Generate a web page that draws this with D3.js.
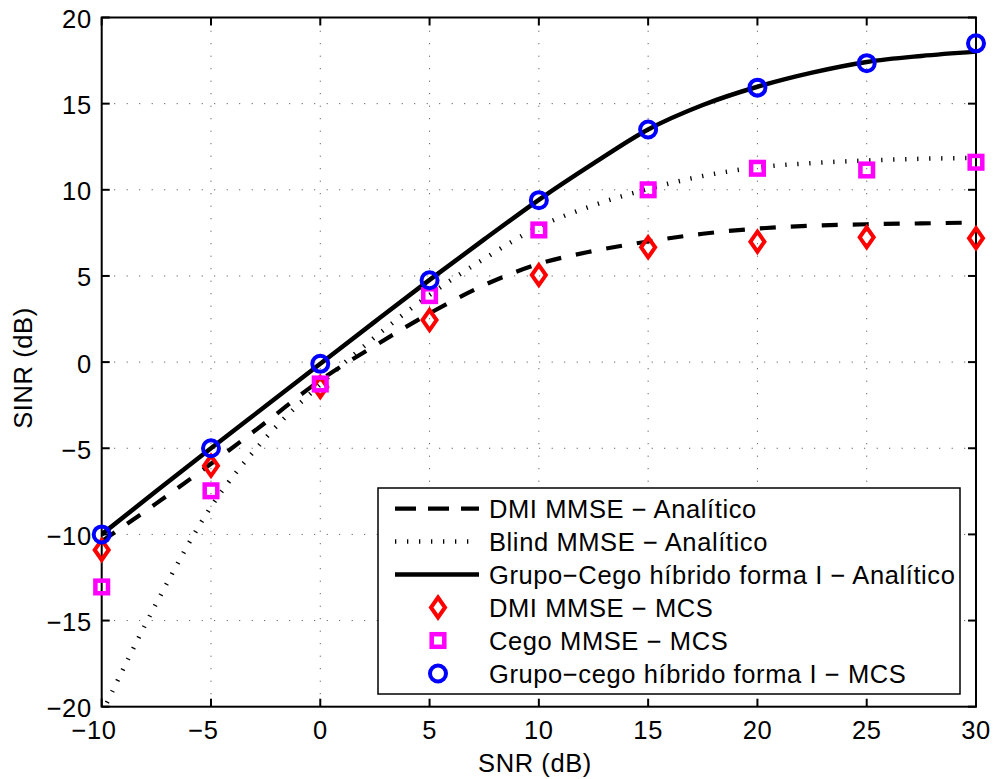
<!DOCTYPE html>
<html>
<head>
	<title></title>
	<script src="https://cdn.jsdelivr.net/npm/d3@7/dist/d3.min.js"></script>
	<style type="text/css">
		body{
			margin: 0;
			padding: 0;
			background: #fff;
		}
		svg{
			display: block;
		}
		text{
			font-family: "Liberation Sans", Arial, Helvetica, sans-serif;
			font-size: 25.5px;
			letter-spacing: 0.6px;
			fill: #000;
		}
	</style>
</head>
<body>
	<svg id="svg" width="993" height="779" version="1.1" xmlns="http://www.w3.org/2000/svg"></svg>
</body>
	<script type="text/javascript">
		// analytic curves, read every 2.5 dB
		let snrFine = [-10,-7.5,-5,-2.5,0,2.5,5,7.5,10,12.5,15,17.5,20,22.5,25,27.5,30];
		let dmiAnalytic = [-10.4,-8.2,-5.9,-3.5,-1.05,0.95,2.83,4.47,5.7,6.45,7.0,7.45,7.75,7.92,8.0,8.05,8.1];
		let blindAnalytic = [-20.4,-14.0,-8.4,-4.4,-1.3,1.45,3.9,6.0,7.85,9.1,10.05,10.8,11.3,11.55,11.7,11.8,11.85];
		let hybridAnalytic = [-10.0,-7.48,-5.0,-2.55,-0.1,2.35,4.77,7.12,9.42,11.53,13.5,14.92,15.98,16.8,17.42,17.77,18.02];

		// simulation points (MCS)
		let snrMcs = [-10,-5,0,5,10,15,20,25,30];
		let dmiMcs = [-10.9,-6.02,-1.45,2.44,5.05,6.66,6.99,7.24,7.19];
		let cegoMcs = [-13.05,-7.47,-1.27,3.86,7.67,10.0,11.25,11.15,11.6];
		let hybridMcs = [-10.0,-5.0,-0.1,4.75,9.4,13.5,15.93,17.35,18.5];

		let xTicks = [-10,-5,0,5,10,15,20,25,30];
		let yTicks = [-20,-15,-10,-5,0,5,10,15,20];

		let legendLabels = [
			'DMI MMSE \u2212 Analítico',
			'Blind MMSE \u2212 Analítico',
			'Grupo\u2212Cego híbrido forma I \u2212 Analítico',
			'DMI MMSE \u2212 MCS',
			'Cego MMSE \u2212 MCS',
			'Grupo\u2212cego híbrido forma I \u2212 MCS'
		];

		let svg = d3.select('#svg');
		let plotLeft = 101.7, plotTop = 17.5, plotRight = 976, plotBottom = 706.7;
		let tickLen = 8;

		let x = d3.scaleLinear().domain([-10,30]).range([plotLeft,plotRight]);
		let y = d3.scaleLinear().domain([-20,20]).range([plotBottom,plotTop]);

		function fmt(v){
			return v<0 ? '\u2212'+Math.abs(v) : ''+v;
		}

		svg.append('defs').append('clipPath').attr('id','plotClip')
			.append('rect')
			.attr('x',plotLeft).attr('y',plotTop)
			.attr('width',plotRight-plotLeft).attr('height',plotBottom-plotTop);

		// grid
		let grid = svg.append('g').attr('class','grid')
			.style('stroke','#444')
			.style('stroke-width',1)
			.style('stroke-dasharray','1,11.5');
		xTicks.slice(1,-1).forEach(function(t){
			grid.append('line')
				.attr('x1',x(t)).attr('x2',x(t))
				.attr('y1',plotBottom).attr('y2',plotTop);
		});
		yTicks.slice(1,-1).forEach(function(t){
			grid.append('line')
				.attr('x1',plotLeft).attr('x2',plotRight)
				.attr('y1',y(t)).attr('y2',y(t));
		});

		// curves
		let line = d3.line()
			.x(function(d){ return x(d[0]); })
			.y(function(d){ return y(d[1]); })
			.curve(d3.curveMonotoneX);

		let curves = svg.append('g').attr('clip-path','url(#plotClip)');

		function drawCurve(values,dash,width){
			curves.append('path')
				.datum(d3.zip(snrFine,values))
				.attr('d',line)
				.style('fill','none')
				.style('stroke','#000')
				.style('stroke-width',width)
				.style('stroke-dasharray',dash);
		}
		drawCurve(dmiAnalytic,'16,15',4.2);
		drawCurve(blindAnalytic,'1.3,10.7',4.5);
		drawCurve(hybridAnalytic,null,4.5);

		// axes box and ticks
		let axes = svg.append('g').style('stroke','#000').style('stroke-width',2);
		axes.append('rect')
			.attr('x',plotLeft).attr('y',plotTop)
			.attr('width',plotRight-plotLeft).attr('height',plotBottom-plotTop)
			.style('fill','none');
		xTicks.forEach(function(t){
			axes.append('line').attr('x1',x(t)).attr('x2',x(t)).attr('y1',plotBottom).attr('y2',plotBottom-tickLen);
			axes.append('line').attr('x1',x(t)).attr('x2',x(t)).attr('y1',plotTop).attr('y2',plotTop+tickLen);
		});
		yTicks.forEach(function(t){
			axes.append('line').attr('x1',plotLeft).attr('x2',plotLeft+tickLen).attr('y1',y(t)).attr('y2',y(t));
			axes.append('line').attr('x1',plotRight).attr('x2',plotRight-tickLen).attr('y1',y(t)).attr('y2',y(t));
		});

		// tick labels
		xTicks.forEach(function(t){
			svg.append('text')
				.attr('x',x(t))
				.attr('y',739)
				.attr('dx',t<0 ? -7.7 : 0)
				.style('text-anchor','middle')
				.text(fmt(t));
		});
		yTicks.forEach(function(t){
			svg.append('text')
				.attr('x',plotLeft-10)
				.attr('y',y(t)+10.5)
				.style('text-anchor','end')
				.text(fmt(t));
		});

		svg.append('text')
			.attr('x',535)
			.attr('y',772)
			.style('text-anchor','middle')
			.text('SNR (dB)');
		svg.append('text')
			.attr('transform','translate(31.5,368) rotate(-90)')
			.style('text-anchor','middle')
			.text('SINR (dB)');

		// markers
		function diamond(g,cx,cy){
			g.append('path')
				.attr('d','M'+cx+','+(cy-10)+'L'+(cx+7)+','+cy+'L'+cx+','+(cy+10)+'L'+(cx-7)+','+cy+'Z')
				.style('fill','none')
				.style('stroke','#ff0000')
				.style('stroke-width',4)
				.style('stroke-linejoin','miter');
		}
		function square(g,cx,cy){
			g.append('rect')
				.attr('x',cx-6.3).attr('y',cy-6.3)
				.attr('width',12.6).attr('height',12.6)
				.style('fill','none')
				.style('stroke','#ff00ff')
				.style('stroke-width',4.5);
		}
		function circle(g,cx,cy){
			g.append('circle')
				.attr('cx',cx).attr('cy',cy).attr('r',8)
				.style('fill','none')
				.style('stroke','#0000ff')
				.style('stroke-width',4);
		}

		let marks = svg.append('g');
		snrMcs.forEach(function(s,i){ diamond(marks,x(s),y(dmiMcs[i])); });
		snrMcs.forEach(function(s,i){ square(marks,x(s),y(cegoMcs[i])); });
		snrMcs.forEach(function(s,i){ circle(marks,x(s),y(hybridMcs[i])); });

		// legend
		let lg = svg.append('g');
		lg.append('rect')
			.attr('x',378).attr('y',488)
			.attr('width',582).attr('height',206)
			.style('fill','#fff')
			.style('stroke','#000')
			.style('stroke-width',1.5);

		let rowY = [508.7,541.5,574.5,607.5,640.5,673.5];
		let sampleDash = ['21,12','1.3,10.7',null];
		let sampleWidth = [4.2,4.5,4.5];
		legendLabels.forEach(function(label,i){
			let ry = rowY[i];
			if(i<3){
				lg.append('line')
					.attr('x1',395).attr('x2',479)
					.attr('y1',ry).attr('y2',ry)
					.style('stroke','#000')
					.style('stroke-width',sampleWidth[i])
					.style('stroke-dasharray',sampleDash[i]);
			}else if(i==3){
				diamond(lg,438,ry);
			}else if(i==4){
				square(lg,438,ry);
			}else{
				circle(lg,438,ry);
			}
			lg.append('text')
				.attr('x',489)
				.attr('y',ry+9.5)
				.text(label);
		});
	</script>
</html>
